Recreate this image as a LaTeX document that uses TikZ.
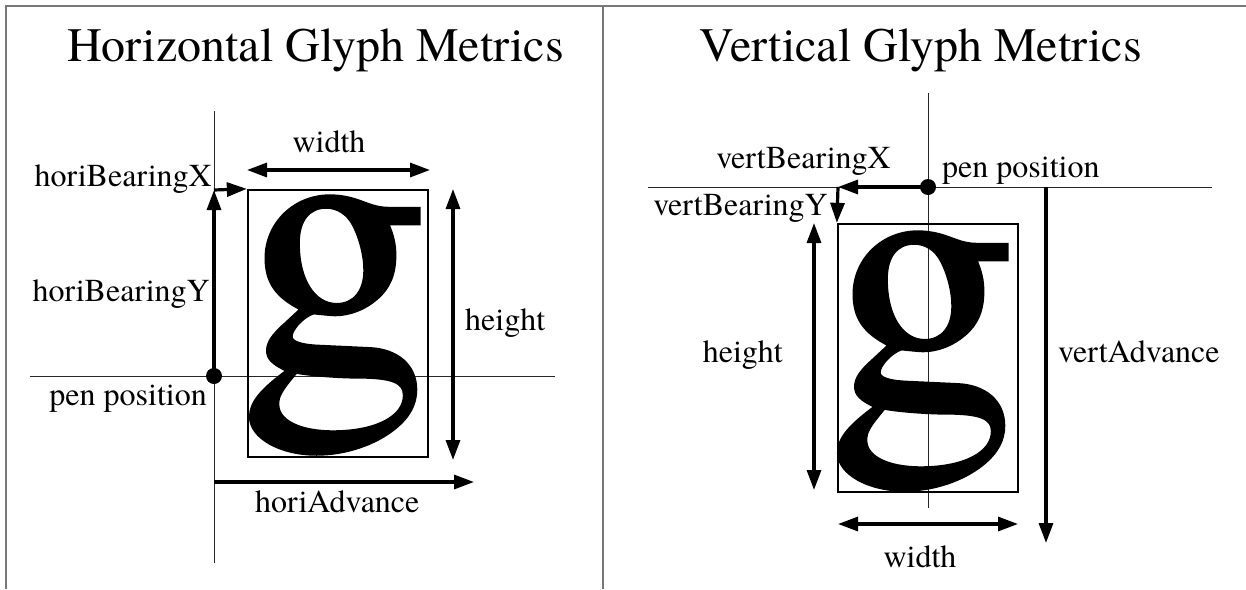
\documentclass[tikz,border=0pt]{standalone}
\usepackage{fontspec}
\setmainfont{TeX Gyre Termes}
\newfontfamily\termes[FakeBold=1]{TeX Gyre Termes}
\usetikzlibrary{arrows.meta}
\tikzset{
  frameline/.style={draw={rgb,255:red,120;green,120;blue,120}, line width=1.6pt},
  axisline/.style={draw=black!85, line width=0.9pt},
  arr/.style={line width=3.2pt, -{Triangle[length=20pt,width=14pt]}},
  dblarr/.style={line width=3.2pt, {Triangle[length=20pt,width=14pt]}-{Triangle[length=20pt,width=14pt]}},
  gbox/.style={draw, line width=2.3pt, inner sep=0pt, minimum width=180pt, minimum height=267pt},
  pendot/.style={circle, fill=black, inner sep=0pt, minimum size=16pt},
  lbl/.style={inner sep=0pt, font=\fontsize{32}{38}\selectfont},
  ttl/.style={inner sep=0pt, font=\fontsize{48}{56}\selectfont},
  glyph/.style={inner sep=0pt, text height=177pt, text depth=84pt, font=\termes\fontsize{380}{400}\selectfont}
}
\begin{document}
\begin{tikzpicture}[x=1pt,y=-1pt]
\useasboundingbox (0,0) rectangle (1246,589);
% frame
\coordinate (fBL) at (6,589);
\coordinate (fTL) at (6,5.7);
\coordinate (fTR) at (1246,5.7);
\coordinate (fMT) at (603,5.7);
\coordinate (fMB) at (603,589);
\draw[frameline] (fBL) -- (fTL) -- (fTR);
\draw[frameline] (fMT) -- (fMB);
% titles
\node[ttl, anchor=base west] (titleL) at (67,61) {Horizontal Glyph Metrics};
\node[ttl, anchor=base east] (titleR) at (1142,61) {Vertical Glyph Metrics};

% ---------------- left panel ----------------
\coordinate (LaxT) at (214,111);
\coordinate (LaxB) at (214,563);
\coordinate (LbaseL) at (30,376);
\coordinate (LbaseR) at (555,376);
\draw[axisline] (LaxT) -- (LaxB);
\draw[axisline] (LbaseL) -- (LbaseR);
\node[glyph, anchor=base west] (gL) at (240,371) {g};
\node[gbox] (boxL) at (338,323.5) {};
\node[pendot] (penL) at (214,376) {};
\coordinate (LBX) at (214,190);
\draw[arr] (penL.center) -- (LBX);
\draw[arr] (LBX) -- (boxL.north west);
\coordinate (LW1) at (247,170);
\coordinate (LW2) at (430,170);
\draw[dblarr] (LW1) -- (LW2);
\coordinate (LH1) at (453,189);
\coordinate (LH2) at (453,460);
\draw[dblarr] (LH1) -- (LH2);
\coordinate (LA1) at (214,482);
\coordinate (LA2) at (474,482);
\draw[arr] (LA1) -- (LA2);
\node[lbl, anchor=base] (lwidth) at (329,152) {width};
\node[lbl, anchor=base west] (lheight) at (465,330) {height};
\node[lbl, anchor=base east] (lbx) at (212,186) {horiBearingX};
\node[lbl, anchor=base east] (lby) at (210,301) {horiBearingY};
\node[lbl, anchor=base east] (lpen) at (207,405) {pen position};
\node[lbl, anchor=base west] (ladv) at (255,512) {horiAdvance};

% ---------------- right panel ----------------
\coordinate (RaxT) at (928,93);
\coordinate (RaxB) at (928,508);
\coordinate (RbaseL) at (648,187);
\coordinate (RbaseR) at (1212,187);
\draw[axisline] (RaxT) -- (RaxB);
\draw[axisline] (RbaseL) -- (RbaseR);
\node[glyph, anchor=base west] (gR) at (828,407) {g};
\node[gbox, minimum height=268pt] (boxR) at (928,358) {};
\node[pendot] (penR) at (928,187) {};
\coordinate (RBX) at (838,187);
\draw[arr] (penR.center) -- (RBX);
\draw[arr] (RBX) -- (boxR.north west);
\coordinate (RH1) at (814,223);
\coordinate (RH2) at (814,490);
\draw[dblarr] (RH1) -- (RH2);
\coordinate (RW1) at (838,524);
\coordinate (RW2) at (1018,524);
\draw[dblarr] (RW1) -- (RW2);
\coordinate (RA1) at (1046,187);
\coordinate (RA2) at (1046,543);
\draw[arr] (RA1) -- (RA2);
\node[lbl, anchor=base east] (rbx) at (891,168) {vertBearingX};
\node[lbl, anchor=base east] (rby) at (828,215) {vertBearingY};
\node[lbl, anchor=base west] (rpen) at (942,177) {pen position};
\node[lbl, anchor=base east] (rheight) at (783,362) {height};
\node[lbl, anchor=base west] (radv) at (1058,362) {vertAdvance};
\node[lbl, anchor=base] (rwidth) at (920,567) {width};
\end{tikzpicture}
\end{document}
